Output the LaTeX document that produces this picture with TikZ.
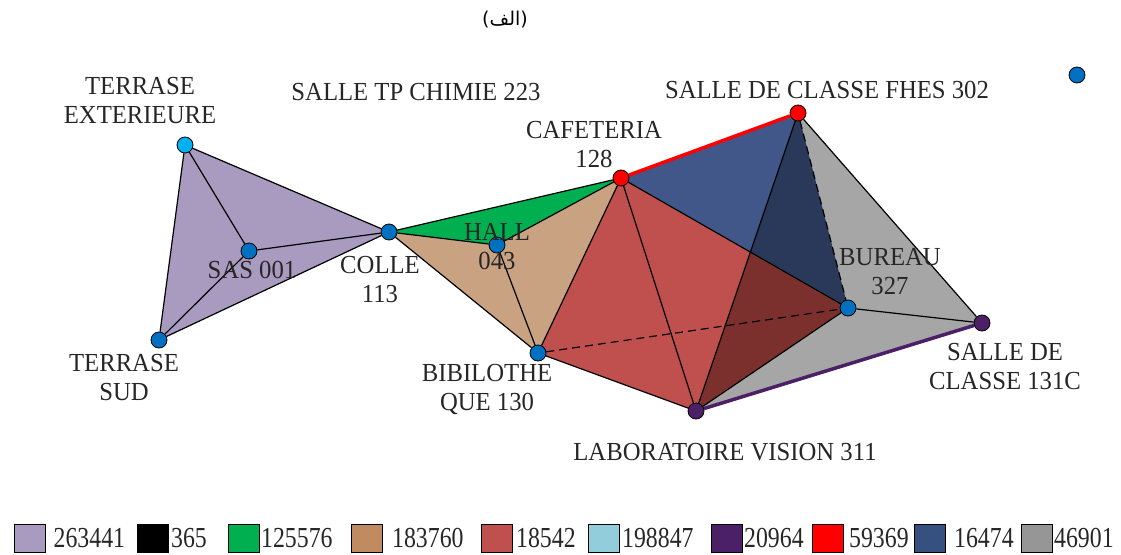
\documentclass[tikz,border=0pt]{standalone}
\usepackage{fontspec}
\setmainfont{Liberation Serif}
\newfontfamily\arabicfont[Script=Arabic]{DejaVu Sans}
\newfontfamily\lblfont[FakeStretch=0.95]{Liberation Serif}
\newfontfamily\legfont[FakeStretch=0.82]{Liberation Serif}
\TeXXeTstate=1
\usetikzlibrary{positioning}
\pgfdeclarelayer{background}
\pgfsetlayers{background,main}
\definecolor{lilac}{HTML}{A99AC0}
\definecolor{grn}{HTML}{00B050}
\definecolor{tanF}{HTML}{C9A282}
\definecolor{tanK}{HTML}{C08B60}
\definecolor{redF}{HTML}{C0504D}
\definecolor{redD}{HTML}{7B302D}
\definecolor{navyF}{HTML}{41578A}
\definecolor{navyK}{HTML}{36507F}
\definecolor{navyD}{HTML}{2A3959}
\definecolor{grayF}{HTML}{A6A6A6}
\definecolor{grayK}{HTML}{969696}
\definecolor{ltblue}{HTML}{92CDDC}
\definecolor{purp}{HTML}{4B2067}
\definecolor{nodeblue}{HTML}{0070C0}
\definecolor{skyblue}{HTML}{00B0F0}
\definecolor{hot}{HTML}{FF0000}

\begin{document}
\begin{tikzpicture}[x=1pt, y=-1pt,
    room/.style = {circle, draw=black, line width=0.8pt, minimum size=16pt, inner sep=0pt, fill=nodeblue},
    lbl/.style = {align=center, font=\lblfont\fontsize{26}{29}\selectfont, inner sep=0pt, text=black!85},
    lnk/.style = {line width=1.2pt, black},
    hid/.style = {lnk, dash pattern=on 8pt off 5pt},
    key/.style = {draw=black, line width=0.8pt, minimum width=31pt, minimum height=28pt, inner sep=0pt, anchor=west},
    keytxt/.style = {font=\legfont\fontsize{29}{32}\selectfont, inner sep=0pt, anchor=west, text=black!85}
    ]
  \useasboundingbox (0,0) rectangle (1121,554);

  \node (ttl) at (505,20) {\arabicfont\fontsize{19}{23}\selectfont\beginR (الف)\endR};

  % rooms
  \node[room, fill=skyblue] (te) at (185,145) {};
  \node[room] (sas) at (249,251) {};
  \node[room] (ts) at (159,340) {};
  \node[room] (colle) at (389,232) {};
  \node[room] (hall) at (497,245) {};
  \node[room, fill=hot] (caf) at (621,178) {};
  \node[room, fill=hot] (fhes) at (798,113) {};
  \node[room] (bur) at (848,308) {};
  \node[room, fill=purp] (c131) at (982,323) {};
  \node[room, fill=purp] (lab) at (696,411) {};
  \node[room] (bib) at (538,353) {};
  \node[room] (lone) at (1077,75) {};

  % labels
  \node[lbl] (te-l) at (140,101) {TERRASE\\EXTERIEURE};
  \node[lbl] (tp-l) at (416,92) {SALLE TP CHIMIE 223};
  \node[lbl] (fhes-l) at (827,90) {SALLE DE CLASSE FHES 302};
  \node[lbl] (caf-l) at (594,145) {CAFETERIA\\128};
  \node[lbl] (hall-l) at (497,247) {HALL\\043};
  \node[lbl] (sas-l) at (252,270) {SAS 001};
  \node[lbl] (colle-l) at (380,280) {COLLE\\113};
  \node[lbl] (ts-l) at (124,378) {TERRASE\\SUD};
  \node[lbl] (bib-l) at (487,389) {BIBILOTHE\\QUE 130};
  \node[lbl] (lab-l) at (725,452) {LABORATOIRE VISION 311};
  \node[lbl] (bur-l) at (890,272) {BUREAU\\327};
  \node[lbl] (c131-l) at (1005,367) {SALLE DE\\CLASSE 131C};

  \begin{pgfonlayer}{background}
    % zones
    \fill[lilac] (te.center) -- (ts.center) -- (colle.center) -- cycle;
    \fill[tanF] (colle.center) -- (hall.center) -- (caf.center) -- (bib.center) -- cycle;
    \fill[grn] (colle.center) -- (caf.center) -- (hall.center) -- cycle;
    \fill[grayF] (fhes.center) -- (c131.center) -- (lab.center) -- cycle;
    \fill[navyF] (caf.center) -- (fhes.center) -- (bur.center) -- cycle;
    \fill[redF] (caf.center) -- (bur.center) -- (lab.center) -- (bib.center) -- cycle;
    \coordinate (cross) at (intersection of fhes.center--lab.center and caf.center--bur.center);
    \fill[navyD] (fhes.center) -- (cross) -- (bur.center) -- cycle;
    \fill[redD] (cross) -- (bur.center) -- (lab.center) -- cycle;

    \draw[lnk] (te) -- (sas) (te) -- (ts) (te) -- (colle)
      (sas) -- (ts) (sas) -- (colle) (ts) -- (colle)
      (colle) -- (hall) (colle) -- (caf) (colle) -- (bib)
      (hall) -- (caf) (hall) -- (bib)
      (caf) -- (bib) (caf) -- (lab) (caf) -- (bur)
      (fhes) -- (lab) (fhes) -- (c131)
      (bur) -- (c131) (bur) -- (lab) (bib) -- (lab);
    \draw[hid] (bib) -- (bur) (fhes) -- (bur);
    \draw[lnk, hot, line width=3.5pt] (caf) -- (fhes);
    \draw[lnk, purp, line width=3.5pt] (lab) -- (c131);
  \end{pgfonlayer}

  % legend
  \foreach \x/\c/\t/\tx [count=\i] in {14/lilac/263441/53.5, 137/black/365/171,
      228/grn/125576/261, 351/tanK/183760/392, 481/redF/18542/516,
      588/ltblue/198847/622, 711/purp/20964/744, 812/hot/59369/849,
      914/navyK/16474/954, 1021/grayK/46901/1054}{
    \node[key, fill=\c] (k\i) at (\x,538) {};
    \node[keytxt] (t\i) at (\tx,538) {\t};
  }
\end{tikzpicture}
\end{document}
